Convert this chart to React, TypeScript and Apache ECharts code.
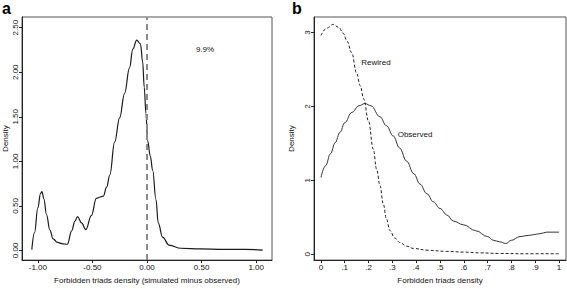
import React, { useEffect, useRef } from "react";
import * as echarts from "echarts";

// Panel a: density of forbidden triads (simulated minus observed)
const A_X = [-1.055, -1.03, -1.0, -0.975, -0.962, -0.945, -0.92, -0.89, -0.86, -0.82, -0.77, -0.73, -0.69, -0.66, -0.636, -0.6, -0.56, -0.51, -0.464, -0.43, -0.4, -0.37, -0.34, -0.297, -0.25, -0.206, -0.16, -0.13, -0.094, -0.06, -0.04, -0.025, -0.01, 0.006, 0.03, 0.052, 0.082, 0.103, 0.142, 0.203, 0.31, 0.49, 0.7, 0.9, 1.06];
const A_Y = [0.01, 0.2, 0.48, 0.64, 0.66, 0.58, 0.4, 0.23, 0.13, 0.09, 0.075, 0.07, 0.22, 0.33, 0.38, 0.31, 0.235, 0.39, 0.585, 0.6, 0.61, 0.71, 0.85, 1.215, 1.49, 1.76, 2.05, 2.26, 2.36, 2.32, 2.12, 1.83, 1.54, 1.23, 1.06, 0.9, 0.57, 0.31, 0.15, 0.06, 0.025, 0.018, 0.012, 0.012, 0.005];

// Panel b: observed vs rewired
const B_OBS_X = [0, 0.02, 0.04, 0.06, 0.08, 0.1, 0.13, 0.16, 0.185, 0.21, 0.248, 0.275, 0.304, 0.33, 0.36, 0.39, 0.416, 0.445, 0.472, 0.5, 0.53, 0.556, 0.598, 0.65, 0.7, 0.724, 0.75, 0.776, 0.8, 0.836, 0.87, 0.892, 0.92, 0.948, 0.975, 1.0];
const B_OBS_Y = [1.04, 1.2, 1.36, 1.51, 1.65, 1.78, 1.92, 2.01, 2.04, 2.01, 1.86, 1.74, 1.6, 1.44, 1.26, 1.09, 0.95, 0.82, 0.71, 0.62, 0.53, 0.45, 0.4, 0.32, 0.24, 0.19, 0.17, 0.147, 0.19, 0.24, 0.255, 0.265, 0.28, 0.3, 0.3, 0.3];
const B_REW_X = [0, 0.025, 0.052, 0.075, 0.094, 0.11, 0.129, 0.15, 0.165, 0.18, 0.2, 0.22, 0.234, 0.248, 0.262, 0.275, 0.29, 0.31, 0.332, 0.36, 0.388, 0.45, 0.528, 0.6, 0.668, 0.75, 0.85, 1.0];
const B_REW_Y = [2.96, 3.06, 3.11, 3.07, 2.99, 2.88, 2.73, 2.45, 2.28, 2.1, 1.8, 1.42, 1.15, 0.93, 0.68, 0.48, 0.32, 0.22, 0.16, 0.11, 0.08, 0.055, 0.04, 0.03, 0.02, 0.012, 0.008, 0.008];

// Tick values
const A_X_TICKS = [-1, -0.5, 0, 0.5, 1];
const A_Y_TICKS = [0, 0.5, 1, 1.5, 2, 2.5];
const B_X_TICKS = [0, 0.1, 0.2, 0.3, 0.4, 0.5, 0.6, 0.7, 0.8, 0.9, 1];
const B_Y_TICKS = [0, 1, 2, 3];

const FONT = "Liberation Sans, Arial, Helvetica, sans-serif";

const zip = (xs: number[], ys: number[]) => xs.map((x, i) => [x, ys[i]]);
const fmtB = (v: number) => {
  if (v === 0) return "0";
  if (v === 1) return "1";
  return "." + Math.round(v * 10);
};

export default function App() {
  const ref = useRef<HTMLDivElement>(null);
  useEffect(() => {
    if (!ref.current) return;
    const chart = echarts.init(ref.current, null, { renderer: "svg" });
    const axisCommon = {
      axisLine: { show: true, onZero: false, lineStyle: { color: "#222", width: 1 } },
      splitLine: { show: false },
      nameTextStyle: { fontFamily: FONT, fontSize: 8, color: "#111" },
    };
    const tick = (vals: number[]) => ({ show: true, inside: false, length: 3, customValues: vals, lineStyle: { color: "#222" } });
    const lbl = { fontFamily: FONT, fontSize: 8, color: "#111", margin: 3 };
    chart.setOption({
      animation: false,
      grid: [
        { left: 20, top: 17, width: 252, height: 252, show: true, borderColor: "#555", borderWidth: 1 },
        { left: 314, top: 17, width: 252, height: 252, show: true, borderColor: "#555", borderWidth: 1 },
      ],
      xAxis: [
        {
          ...axisCommon,
          type: "value",
          gridIndex: 0,
          min: -1.145,
          max: 1.145,
          axisTick: tick(A_X_TICKS),
          axisLabel: { ...lbl, customValues: A_X_TICKS, formatter: (v: number) => v.toFixed(2) },
          name: "Forbidden triads density (simulated minus observed)",
          nameLocation: "middle",
          nameGap: 11,
        },
        {
          ...axisCommon,
          type: "value",
          gridIndex: 1,
          min: -0.029,
          max: 1.029,
          axisTick: tick(B_X_TICKS),
          axisLabel: { ...lbl, customValues: B_X_TICKS, formatter: fmtB },
          name: "Forbidden triads density",
          nameLocation: "middle",
          nameGap: 11,
        },
      ],
      yAxis: [
        {
          ...axisCommon,
          type: "value",
          gridIndex: 0,
          min: -0.108,
          max: 2.62,
          axisTick: tick(A_Y_TICKS),
          axisLabel: { ...lbl, customValues: A_Y_TICKS, rotate: 90, formatter: (v: number) => v.toFixed(2) },
          name: "Density",
          nameLocation: "middle",
          nameGap: 13,
        },
        {
          ...axisCommon,
          type: "value",
          gridIndex: 1,
          min: -0.078,
          max: 3.21,
          axisTick: tick(B_Y_TICKS),
          axisLabel: { ...lbl, customValues: B_Y_TICKS, rotate: 90, formatter: (v: number) => String(v) },
          name: "Density",
          nameLocation: "middle",
          nameGap: 19,
        },
      ],
      series: [
        {
          type: "line",
          xAxisIndex: 0,
          yAxisIndex: 0,
          data: zip(A_X, A_Y),
          smooth: 0.4,
          smoothMonotone: "x",
          showSymbol: false,
          lineStyle: { color: "#1a1a1a", width: 1.2 },
          markLine: {
            symbol: "none",
            silent: true,
            label: { show: false },
            emphasis: { disabled: true },
            lineStyle: { type: [6, 4], color: "#8a8a8a", width: 2, opacity: 1 },
            data: [{ xAxis: 0 }],
          },
        },
        {
          type: "line",
          xAxisIndex: 1,
          yAxisIndex: 1,
          data: zip(B_OBS_X, B_OBS_Y),
          smooth: 0.4,
          smoothMonotone: "x",
          showSymbol: false,
          lineStyle: { color: "#333", width: 1 },
        },
        {
          type: "line",
          xAxisIndex: 1,
          yAxisIndex: 1,
          data: zip(B_REW_X, B_REW_Y),
          smooth: 0.4,
          smoothMonotone: "x",
          showSymbol: false,
          lineStyle: { color: "#222", width: 1, type: [3, 2] },
        },
      ],
      graphic: [
        { type: "text", left: 2, top: 0, style: { text: "a", font: `bold 16px ${FONT}`, fill: "#000" } },
        { type: "text", left: 292, top: 0, style: { text: "b", font: `bold 16px ${FONT}`, fill: "#000" } },
        { type: "text", x: 205, y: 49, style: { text: "9.9%", font: `8px ${FONT}`, fill: "#111", align: "center", verticalAlign: "middle" } },
        { type: "text", x: 376, y: 62, style: { text: "Rewired", font: `8px ${FONT}`, fill: "#111", align: "center", verticalAlign: "middle" } },
        { type: "text", x: 415, y: 134, style: { text: "Observed", font: `8px ${FONT}`, fill: "#111", align: "center", verticalAlign: "middle" } },
      ],
    });
    return () => chart.dispose();
  }, []);
  return <div ref={ref} style={{ position: "fixed", left: 0, top: 0, width: 567, height: 289, background: "#fff" }} />;
}
